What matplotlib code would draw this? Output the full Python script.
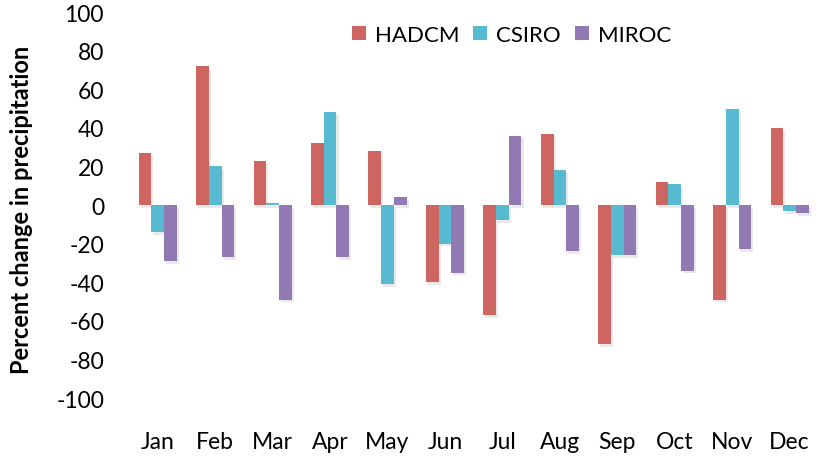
import numpy as np
import matplotlib
matplotlib.use("Agg")
import matplotlib.pyplot as plt
import matplotlib.patheffects as pe

months = ["Jan", "Feb", "Mar", "Apr", "May", "Jun", "Jul", "Aug", "Sep", "Oct", "Nov", "Dec"]
hadcm = [27, 72, 23, 32, 28, -40, -57, 37, -72, 12, -49, 40]
csiro = [-14, 20, 1, 48, -41, -20, -8, 18, -26, 11, 50, -3]
miroc = [-29, -27, -49, -27, 4, -35, 36, -24, -26, -34, -23, -4]

series = [("HADCM", hadcm, "#CD6560"), ("CSIRO", csiro, "#57BAD1"), ("MIROC", miroc, "#917AB4")]

plt.rcParams["font.family"] = ["Lato", "DejaVu Sans"]
plt.rcParams["axes.unicode_minus"] = False

fig = plt.figure(figsize=(8.25, 4.6), dpi=100)
ax = fig.add_axes([0.1564, 0.1326, 0.8356, 0.8391])

x = np.arange(len(months))
w = 0.221
shadow = [pe.SimplePatchShadow(offset=(1.5, -2), shadow_rgbFace="#aaaaaa", alpha=0.25), pe.Normal()]
for i, (name, vals, col) in enumerate(series):
    bars = ax.bar(x + (i - 1) * w, vals, w, color=col, label=name, zorder=3)
    for b in bars:
        b.set_path_effects(shadow)

ax.set_xlim(-0.5, len(months) - 0.5)
ax.set_ylim(-100, 100)
ax.set_yticks(np.arange(-100, 101, 20))
ax.set_xticks(x)
ax.set_xticklabels(months)
ax.tick_params(axis="both", length=0, labelsize=16.5)
ax.tick_params(axis="x", pad=24)
ax.tick_params(axis="y", pad=18)
for s in ax.spines.values():
    s.set_visible(False)

ax.set_ylabel("Percent change in precipitation", fontsize=17, fontweight="bold")
ax.yaxis.set_label_coords(-0.139, 0.49)

leg = ax.legend(ncol=3, loc="upper left", bbox_to_anchor=(0.31, 0.99), frameon=False,
                fontsize=16, handlelength=0.63, handleheight=0.63,
                handletextpad=0.4, columnspacing=0.65, borderaxespad=0)
for h in leg.legend_handles:
    h.set_path_effects([])

fig.savefig("out.png", dpi=100)
